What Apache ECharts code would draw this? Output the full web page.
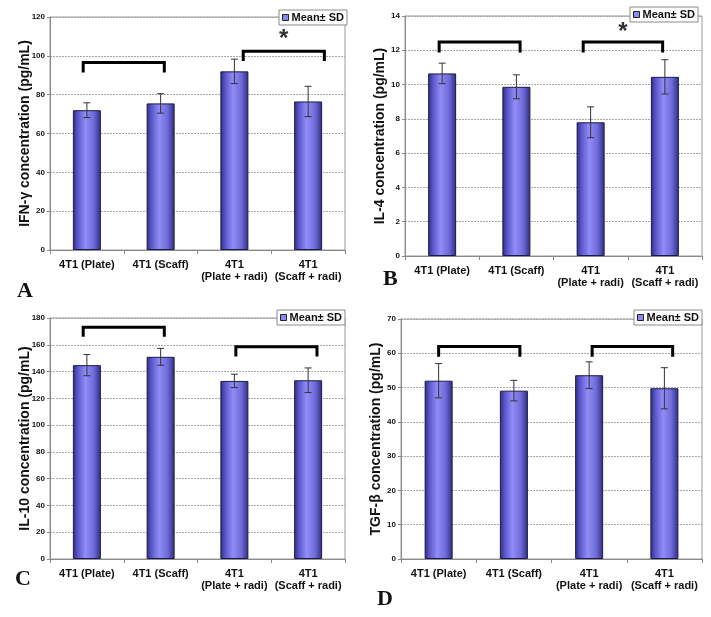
<!DOCTYPE html>
<html>
<head>
  <meta charset="UTF-8">
  <title>Cytokine concentrations</title>
  <style>
    * { margin: 0; padding: 0; }
    body { background: #fff; }
    #chart { width: 711px; height: 617px; }
  </style>
</head>
<body>
<div id="chart"></div>
<script src="https://cdn.jsdelivr.net/npm/echarts@6/dist/echarts.min.js"></script>
<script>
  // categories
  var groups = ['4T1 (Plate)', '4T1 (Scaff)', '4T1\n(Plate + radi)', '4T1\n(Scaff + radi)'];

  // means and SD
  var ifnMean = [72, 75.5, 92, 76.5];
  var ifnSD = [3.8, 5, 6.3, 7.8];
  var il4Mean = [10.65, 9.87, 7.8, 10.45];
  var il4SD = [0.6, 0.7, 0.9, 1.0];
  var il10Mean = [144.8, 151, 133, 133.5];
  var il10SD = [7.9, 6.3, 5, 9.2];
  var tgfMean = [52, 49.1, 53.6, 49.8];
  var tgfSD = [5, 3, 3.9, 6];

  // brackets: [from (category pos), to, top, leg end, star value or null]
  var ifnBrackets = [[-0.05, 1.05, 96.6, 91.4, null], [2.12, 3.22, 102.4, 97.4, 110.7]];
  var il4Brackets = [[-0.04, 1.05, 12.49, 11.87, null], [1.9, 2.97, 12.49, 11.87, 13.3]];
  var il10Brackets = [[-0.05, 1.05, 173, 166, null], [2.02, 3.12, 158.6, 151.2, null]];
  var tgfBrackets = [[0, 1.08, 62, 59, null], [2.04, 3.11, 62, 59, null]];

  var yNames = ['IFN-γ concentration (pg/mL)', 'IL-4 concentration (pg/mL)',
                'IL-10 concentration (pg/mL)', 'TGF-β concentration (pg/mL)'];
  var yMax = [120, 14, 180, 70];
  var yStep = [20, 2, 20, 10];
  var letters = ['A', 'B', 'C', 'D'];
  var legendName = 'Mean± SD';

  var panels = [
    { mean: ifnMean, sd: ifnSD, br: ifnBrackets },
    { mean: il4Mean, sd: il4SD, br: il4Brackets },
    { mean: il10Mean, sd: il10SD, br: il10Brackets },
    { mean: tgfMean, sd: tgfSD, br: tgfBrackets }
  ];

  // layout of the four plots
  var grids = [
    { left: 50, top: 17, width: 295, height: 233 },
    { left: 405, top: 16, width: 297, height: 240 },
    { left: 50, top: 318, width: 295, height: 241 },
    { left: 401, top: 319, width: 301, height: 240 }
  ];
  var legendPos = [
    { left: 279, top: 10 },
    { left: 630, top: 7 },
    { left: 277, top: 310 },
    { left: 634, top: 310 }
  ];
  var letterPos = [[17, 280], [383, 268], [15, 568], [377, 588]];

  var font = 'Liberation Sans, Arial, sans-serif';
  var barFill = new echarts.graphic.LinearGradient(0, 0, 1, 0, [
    { offset: 0, color: '#2f2c80' },
    { offset: 0.18, color: '#5c58cc' },
    { offset: 0.45, color: '#908df8' },
    { offset: 0.75, color: '#6e6ad8' },
    { offset: 1, color: '#2f2c80' }
  ]);

  var option = {
    animation: false,
    backgroundColor: '#fff',
    grid: [], xAxis: [], yAxis: [], series: [], legend: [], graphic: []
  };

  panels.forEach(function (p, k) {
    option.grid.push(Object.assign({
      show: true, borderColor: '#9a9a9a', borderWidth: 1, backgroundColor: '#fff'
    }, grids[k]));

    option.xAxis.push({
      type: 'category', gridIndex: k, data: groups,
      axisLine: { lineStyle: { color: '#8a8a8a' } },
      axisTick: { show: true, length: 4, lineStyle: { color: '#8a8a8a' } },
      axisLabel: { color: '#111', fontFamily: font, fontWeight: 'bold', fontSize: 11,
                   lineHeight: 12, margin: 9, interval: 0 }
    });

    option.yAxis.push({
      type: 'value', gridIndex: k, min: 0, max: yMax[k], interval: yStep[k],
      name: yNames[k], nameLocation: 'middle', nameGap: 18, nameMoveOverlap: false,
      nameTextStyle: { color: '#111', fontFamily: font, fontWeight: 'bold', fontSize: 14 },
      axisLine: { show: true, lineStyle: { color: '#8a8a8a' } },
      axisTick: { show: true, length: 3, lineStyle: { color: '#8a8a8a' } },
      axisLabel: { color: '#111', fontFamily: font, fontWeight: 'bold', fontSize: 8, margin: 5 },
      splitLine: { show: true, lineStyle: { color: '#a8a8a8', type: [2, 1] } }
    });

    option.series.push({
      name: legendName, type: 'bar', xAxisIndex: k, yAxisIndex: k,
      data: p.mean, barWidth: 28,
      itemStyle: { color: barFill, borderColor: '#1c1a48', borderWidth: 1 }
    });

    // error bars
    option.series.push({
      name: 'sd' + k, type: 'custom', xAxisIndex: k, yAxisIndex: k, z: 5,
      data: p.mean.map(function (m, i) { return [i, m - p.sd[i], m + p.sd[i]]; }),
      encode: { x: 0, y: [1, 2] },
      renderItem: function (params, api) {
        var lo = api.coord([api.value(0), api.value(1)]);
        var hi = api.coord([api.value(0), api.value(2)]);
        var w = 3.5;
        var st = { stroke: '#333', lineWidth: 1 };
        return { type: 'group', children: [
          { type: 'line', shape: { x1: lo[0], y1: lo[1], x2: hi[0], y2: hi[1] }, style: st },
          { type: 'line', shape: { x1: hi[0] - w, y1: hi[1], x2: hi[0] + w, y2: hi[1] }, style: st },
          { type: 'line', shape: { x1: lo[0] - w, y1: lo[1], x2: lo[0] + w, y2: lo[1] }, style: st }
        ] };
      }
    });

    // brackets and stars; category positions may be fractional
    option.series.push({
      name: 'br' + k, type: 'custom', xAxisIndex: k, yAxisIndex: k, z: 6,
      data: p.br.map(function (b, i) { return [i, b[2]]; }),
      renderItem: function (params, api) {
        var b = p.br[params.dataIndex];
        var x0 = api.coord([0, b[2]])[0];
        var step = api.coord([1, b[2]])[0] - x0;
        var xa = x0 + b[0] * step, xc = x0 + b[1] * step;
        var yTop = api.coord([0, b[2]])[1];
        var yLeg = api.coord([0, b[3]])[1];
        var kids = [{
          type: 'polyline',
          shape: { points: [[xa, yLeg], [xa, yTop], [xc, yTop], [xc, yLeg]] },
          style: { stroke: '#000', lineWidth: 3, fill: null }
        }];
        if (b[4] != null) {
          var ys = api.coord([0, b[4]])[1];
          kids.push({
            type: 'text',
            style: { text: '*', x: (xa + xc) / 2, y: ys + 4, align: 'center',
                     verticalAlign: 'middle', fill: '#333', font: 'bold 24px ' + font }
          });
        }
        return { type: 'group', children: kids };
      }
    });

    option.legend.push(Object.assign({
      data: [legendName], orient: 'horizontal', icon: 'rect',
      itemWidth: 6, itemHeight: 6, itemGap: 4,
      backgroundColor: '#fff', borderColor: '#8a8a8a', borderWidth: 1,
      borderRadius: 0, padding: [2, 3],
      itemStyle: { color: '#8c88f0', borderColor: '#222', borderWidth: 1 },
      textStyle: { color: '#111', fontFamily: font, fontWeight: 'bold', fontSize: 11, padding: [0, 0, 0, -2] }
    }, legendPos[k]));

    option.graphic.push({
      type: 'text', left: letterPos[k][0], top: letterPos[k][1],
      style: { text: letters[k], fill: '#111',
               font: 'bold 22px "Liberation Serif", "Times New Roman", serif' }
    });
  });

  var chart = echarts.init(document.getElementById('chart'), null, { renderer: 'canvas' });
  chart.setOption(option);
</script>
</body>
</html>
